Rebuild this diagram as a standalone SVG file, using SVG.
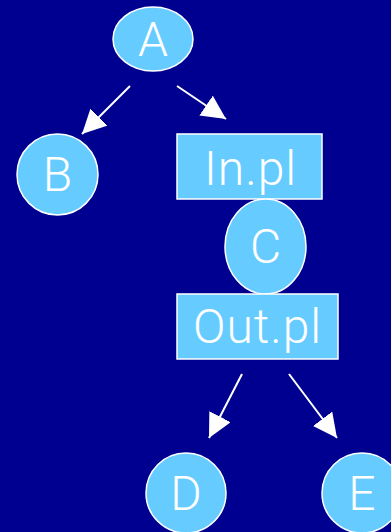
<svg xmlns="http://www.w3.org/2000/svg" width="391" height="532" viewBox="0 0 391 532">
<style>
.n{fill:#66CCFF;stroke:#FFFFFF;stroke-width:1.5}
.t{fill:#FFFFFF;font-family:Roboto,"Liberation Sans",sans-serif;font-size:48px;font-weight:300;text-anchor:middle}
.e{stroke:#FFFFFF;stroke-width:2;fill:none;marker-end:url(#ah)}
</style>
<defs>
<marker id="ah" markerUnits="userSpaceOnUse" markerWidth="24" markerHeight="24" refX="20" refY="10" orient="auto" viewBox="0 0 20 20">
<path d="M0,0 L20,10 L0,20 Z" fill="#FFFFFF"/>
</marker>
</defs>
<rect width="391" height="532" fill="#000090"/>
<g id="edges">
<line class="e" x1="130" y1="86" x2="82" y2="134"/>
<line class="e" x1="177" y1="86" x2="226" y2="119"/>
<line class="e" x1="242" y1="374" x2="209" y2="438"/>
<line class="e" x1="289" y1="374" x2="337" y2="438"/>
</g>
<g id="A"><ellipse class="n" cx="153" cy="39" rx="40" ry="32"/><text class="t" x="153" y="56">A</text></g>
<g id="B"><circle class="n" cx="57.5" cy="174.5" r="40.5"/><text class="t" x="57.5" y="191">B</text></g>
<g id="InPl"><rect class="n" x="177" y="134" width="145" height="65"/><text class="t" x="250.5" y="185" letter-spacing="1">In.pl</text></g>
<g id="C"><ellipse class="n" cx="265.5" cy="246.5" rx="40.5" ry="47.5"/><text class="t" x="265.5" y="263">C</text></g>
<g id="OutPl"><rect class="n" x="177" y="294" width="161" height="65"/><text class="t" x="257.5" y="343" letter-spacing="1">Out.pl</text></g>
<g id="D"><circle class="n" cx="186" cy="493" r="40"/><text class="t" x="186" y="510">D</text></g>
<g id="E"><circle class="n" cx="362" cy="493" r="40"/><text class="t" x="362" y="510">E</text></g>
</svg>
